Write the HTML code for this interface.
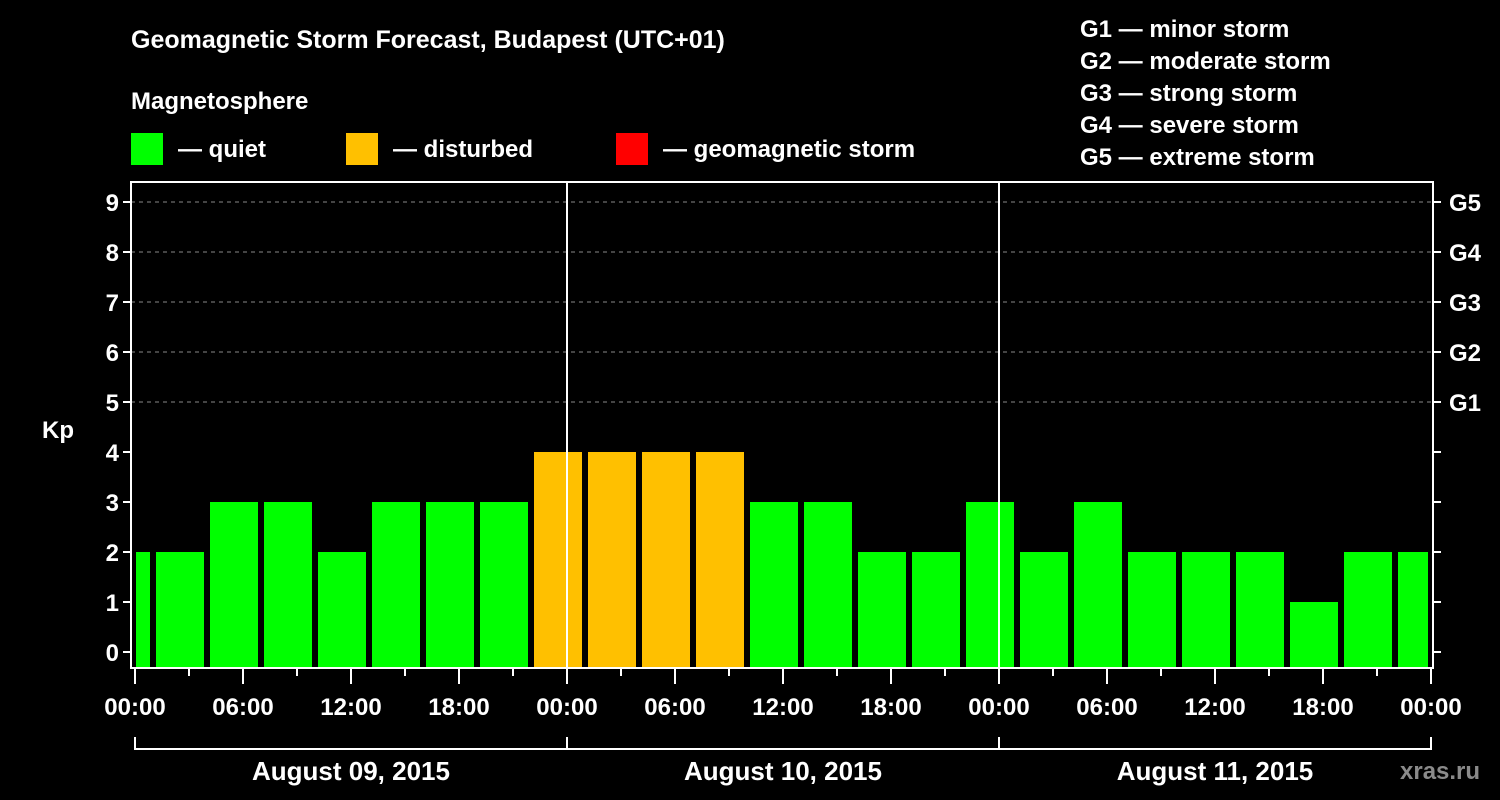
<!DOCTYPE html>
<html><head><meta charset="utf-8"><style>
html,body{margin:0;padding:0;background:#000;}
svg{display:block;}
text{font-family:"Liberation Sans",Arial,sans-serif;font-weight:bold;fill:#fff;}
</style></head><body>
<svg id="chart" width="1500" height="800" viewBox="0 0 1500 800" xmlns="http://www.w3.org/2000/svg">
<rect width="1500" height="800" fill="#000"/>
<text x="131" y="48" font-size="25">Geomagnetic Storm Forecast, Budapest (UTC+01)</text>
<text x="131" y="109" font-size="24">Magnetosphere</text>
<rect x="131" y="133" width="32" height="32" fill="#00ff00"/>
<text x="178" y="157" font-size="24">— quiet</text>
<rect x="346" y="133" width="32" height="32" fill="#ffc000"/>
<text x="393" y="157" font-size="24">— disturbed</text>
<rect x="616" y="133" width="32" height="32" fill="#ff0000"/>
<text x="663" y="157" font-size="24">— geomagnetic storm</text>
<g id="glegend"></g>
<text x="42" y="438" font-size="24">Kp</text>
<g id="grid"></g>
<g id="bars"></g>
<g id="axes"></g>
<text x="1400" y="779" font-size="24" style="fill:#8a8a8a">xras.ru</text>
</svg>
<script>
const kpValues=[2,2,3,3,2,3,3,3,4,4,4,4,3,3,2,2,3,2,3,2,2,2,1,2,2];
const kpTicks=[0,1,2,3,4,5,6,7,8,9];
const gLevels=["G1","G2","G3","G4","G5"];
const gDesc=["minor storm","moderate storm","strong storm","severe storm","extreme storm"];
const hourLabels=["00:00","06:00","12:00","18:00"];
const dayLabels=["August 09, 2015","August 10, 2015","August 11, 2015"];

const NS="http://www.w3.org/2000/svg";
const L=131,R=1433,T=182,B=668,X0=135,PXH=18;
const xs=h=>X0+h*PXH;
const ys=k=>652-k*50;
function mk(tag,attrs,parent,txt){const e=document.createElementNS(NS,tag);for(const k in attrs)e.setAttribute(k,attrs[k]);if(txt!==undefined)e.textContent=txt;parent.appendChild(e);return e;}
const grid=document.getElementById('grid'),bars=document.getElementById('bars'),axes=document.getElementById('axes'),gl=document.getElementById('glegend');

gLevels.forEach((g,i)=>{
  const t=mk('text',{x:1080,y:37+i*32,'font-size':24},gl,g+" — "+gDesc[i]);
  
  
});

kpTicks.forEach(k=>{
  if(k>=5){const ln=mk('line',{x1:L,x2:R,y1:ys(k),y2:ys(k),stroke:'#888','stroke-width':1,'stroke-dasharray':'4,4'},grid);
    
    }
  const tk=mk('line',{x1:L-8,x2:L,y1:ys(k),y2:ys(k),stroke:'#fff','stroke-width':2},axes);
  
  
  const lb=mk('text',{x:L-12,y:ys(k)+9,'font-size':24,'text-anchor':'end'},axes,String(k));
  
  
  const rt=mk('line',{x1:R,x2:R+8,y1:ys(k),y2:ys(k),stroke:'#fff','stroke-width':2},axes);
  
  
  if(k>=5){const g=mk('text',{x:R+16,y:ys(k)+9,'font-size':24},axes,gLevels[k-5]);
    
    }
});

kpValues.forEach((v,i)=>{
  const c=-0.5+3*i;
  let x1=xs(c)-24,x2=xs(c)+24;
  x1=Math.max(x1,L+5);x2=Math.min(x2,R-5);
  const col=v>=5?'#ff0000':(v>=4?'#ffc000':'#00ff00');
  const r=mk('rect',{x:x1,y:ys(v),width:x2-x1,height:B-ys(v)-1,fill:col},bars);
  
  
});

const frame=mk('rect',{x:L,y:T,width:R-L,height:B-T,fill:'none',stroke:'#fff','stroke-width':2},axes);


for(let d=1;d<dayLabels.length;d++){
  const v=mk('line',{x1:xs(24*d),x2:xs(24*d),y1:T,y2:B,stroke:'#fff','stroke-width':2},axes);
  
  
}
for(let h=0;h<=72;h+=3){
  const major=h%6===0;
  const t=mk('line',{x1:xs(h),x2:xs(h),y1:B,y2:B+(major?16:8),stroke:'#fff','stroke-width':2},axes);
  
  
  if(major){const lb=mk('text',{x:xs(h),y:715,'font-size':24,'text-anchor':'middle'},axes,hourLabels[(h/6)%4]);
    
    }
}
const br=mk('line',{x1:xs(0),x2:xs(72),y1:749,y2:749,stroke:'#fff','stroke-width':2},axes);


for(let d=0;d<=dayLabels.length;d++){
  const v=mk('line',{x1:xs(24*d),x2:xs(24*d),y1:737,y2:750,stroke:'#fff','stroke-width':2},axes);
  
  
}
dayLabels.forEach((d,i)=>{
  const t=mk('text',{x:xs(24*i+12),y:780,'font-size':26,'text-anchor':'middle'},axes,d);
  
  
});
</script>
</body></html>
